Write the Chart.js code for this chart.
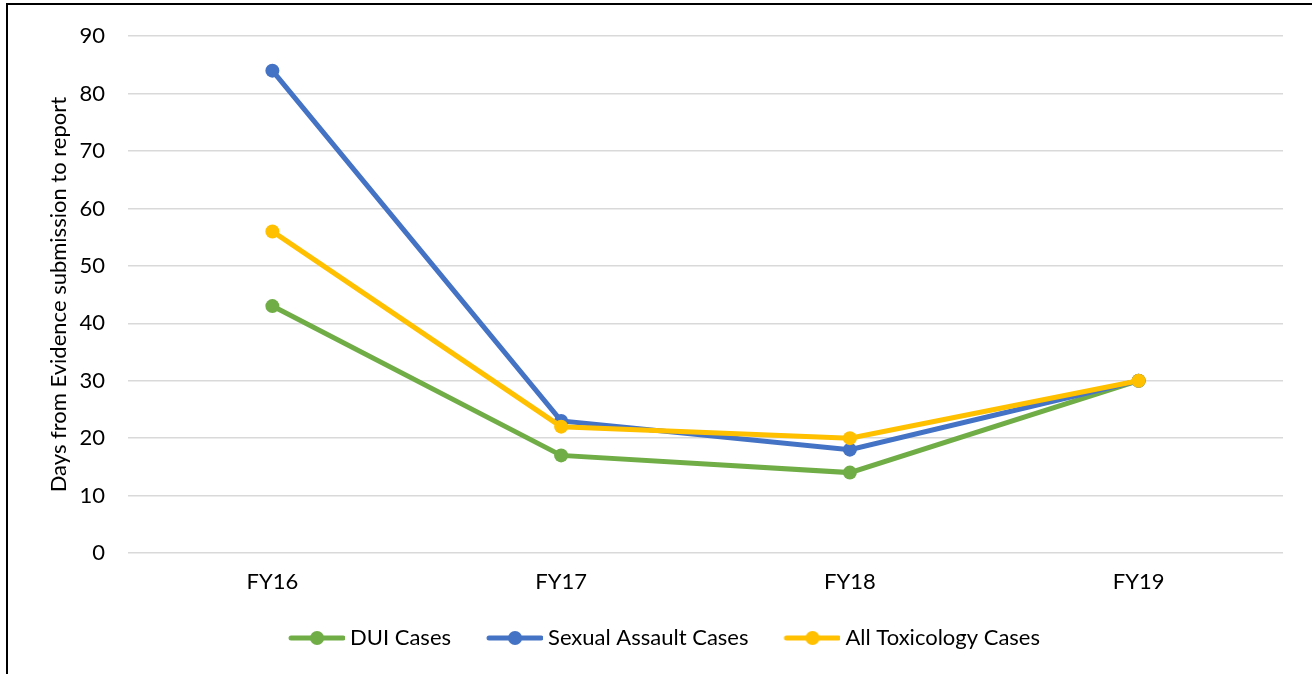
<!DOCTYPE html>
<html>
<head>
<meta charset="utf-8">
<script src="https://cdn.jsdelivr.net/npm/chart.js@4"></script>
<style>
  html, body { margin: 0; padding: 0; background: #fff; overflow: hidden; }
  #wrap { position: relative; width: 1312px; height: 674px; }
  #frame { position: absolute; left: 6px; top: 3px; width: 1400px; height: 800px; border: 2px solid #000; box-sizing: border-box; pointer-events: none; }
  canvas { position: absolute; left: 0; top: 0; }
</style>
</head>
<body>
<div id="wrap">
  <canvas id="c" width="1312" height="674"></canvas>
  <div id="frame"></div>
</div>
<script>
const categories = ['FY16', 'FY17', 'FY18', 'FY19'];
const duiCases = [43, 17, 14, 30];
const sexualAssaultCases = [84, 23, 18, 30];
const allToxicologyCases = [56, 22, 20, 30];
const seriesNames = ['DUI Cases', 'Sexual Assault Cases', 'All Toxicology Cases'];
const seriesColors = ['#70AD47', '#4472C4', '#FFC000'];
const yAxisTitle = 'Days from Evidence submission to report';

const FONT = 'Lato, Carlito, "Liberation Sans", sans-serif';
const FS = 22;

function legendMarker(color) {
  const w = 62, h = 16;
  const cv = document.createElement('canvas');
  cv.width = w; cv.height = h;
  const ctx = cv.getContext('2d');
  ctx.strokeStyle = color;
  ctx.lineWidth = 5;
  ctx.lineCap = 'round';
  ctx.beginPath();
  ctx.moveTo(8, h / 2);
  ctx.lineTo(w - 2, h / 2);
  ctx.stroke();
  ctx.fillStyle = color;
  ctx.beginPath();
  ctx.arc(34, h / 2, 7, 0, Math.PI * 2);
  ctx.fill();
  return cv;
}

const seriesData = [duiCases, sexualAssaultCases, allToxicologyCases];
const datasets = seriesNames.map((name, i) => ({
  label: name,
  data: seriesData[i],
  borderColor: seriesColors[i],
  backgroundColor: seriesColors[i],
  pointBackgroundColor: seriesColors[i],
  pointBorderColor: seriesColors[i],
  borderWidth: 5,
  pointRadius: 7,
  pointBorderWidth: 0,
  pointHoverRadius: 7,
  tension: 0,
  fill: false,
  order: 3 - i
}));

const legendShift = {
  id: 'legendShift',
  afterLayout(chart) {
    if (chart.legend) {
      chart.legend.left += 23;
      chart.legend.right += 23;
    }
  }
};

new Chart(document.getElementById('c'), {
  type: 'line',
  data: { labels: categories, datasets },
  plugins: [legendShift],
  options: {
    responsive: false,
    animation: false,
    layout: { padding: { left: 0, right: 29, top: 27, bottom: 15 } },
    plugins: {
      tooltip: { enabled: false },
      legend: {
        position: 'bottom',
        labels: {
          usePointStyle: true,
          pointStyleWidth: 50,
          padding: 36,
          color: '#000',
          font: { family: FONT, size: FS },
          generateLabels(chart) {
            return chart.data.datasets.map((ds, i) => ({
              text: ds.label,
              pointStyle: legendMarker(ds.borderColor),
              fillStyle: ds.borderColor,
              strokeStyle: ds.borderColor,
              lineWidth: 0,
              hidden: false,
              datasetIndex: i,
              fontColor: '#000'
            }));
          }
        }
      }
    },
    scales: {
      x: {
        offset: true,
        grid: { display: false, drawTicks: false, offset: true },
        border: { display: false },
        ticks: { color: '#000', font: { family: FONT, size: FS }, padding: 16 },
        afterFit(scale) { scale.height = 38; }
      },
      y: {
        min: 0, max: 90,
        grid: { color: '#D9D9D9', lineWidth: 1.5, drawTicks: false },
        border: { display: false },
        ticks: { stepSize: 10, color: '#000', font: { family: FONT, size: FS }, padding: 23 },
        title: {
          display: true,
          text: yAxisTitle,
          color: '#000',
          font: { family: FONT, size: FS },
          padding: { top: 46, bottom: 0 }
        },
        afterFit(scale) { scale.width = 128; }
      }
    }
  }
});
</script>
</body>
</html>
